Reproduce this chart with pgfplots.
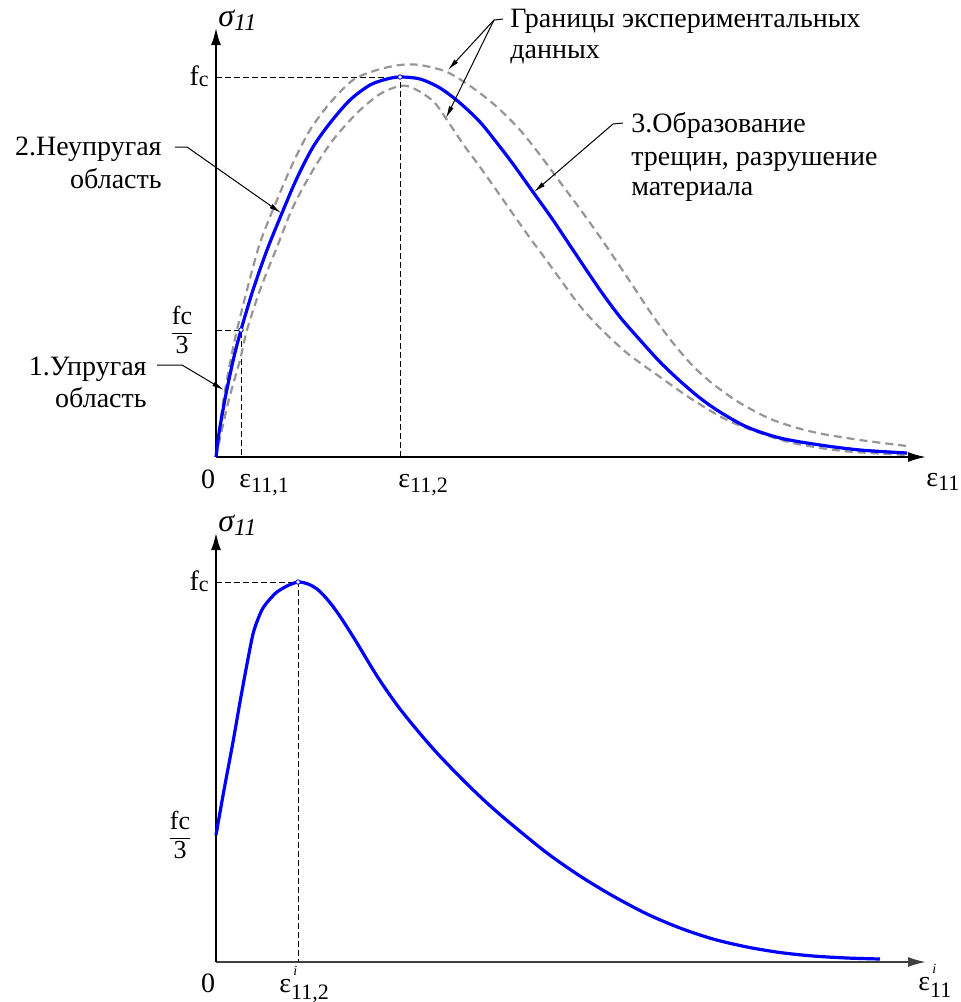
\documentclass[border=0pt]{standalone}
\usepackage{pgfplots}
\pgfplotsset{compat=1.18}
\usepackage{amsmath}
\usepackage{fontspec}
\setmainfont{Liberation Serif}
\newfontfamily\tnr{Liberation Serif}
\usetikzlibrary{arrows.meta}
\definecolor{bl}{RGB}{0,0,255}
\definecolor{gr}{RGB}{150,150,150}
\newcommand\fs[1]{\fontsize{#1}{#1}\selectfont}
\newcommand\sig{{\fs{16}\itshape σ}\raisebox{-0.45ex}{\fs{12}\itshape 11}}
\newcommand\fc{{\fs{14}f}\raisebox{-0.1ex}{\fs{11}c}}
\newcommand\fcthree{$\dfrac{\text{\tnr\fs{13}fc}}{\text{\tnr\fs{13}3}}$}
\newcommand\eps[1]{{\fs{14}ε}\raisebox{-0.5ex}{\fs{11}#1}}
\newcommand\epsi[1]{{\fs{14}ε}\rlap{\raisebox{8.5pt}{\fs{7}\itshape\,i}}\raisebox{-3.6pt}{\fs{11}#1}}
\begin{document}
\begin{tikzpicture}[font=\tnr]
\pgfplotsset{myaxis/.style={
  scale only axis, width=355pt, height=215pt,
  xmin=0, xmax=710, ymin=0, ymax=430,
  axis lines=left, xtick=\empty, ytick=\empty, clip=false,
  x axis line style={line width=0.9pt,-{Latex[length=9pt,width=5pt]}},
  y axis line style={line width=1.4pt,-{Latex[length=9pt,width=5pt]}},
  anchor=south west}}
% ---------- top ----------
\begin{axis}[myaxis, at={(108pt,-228.5pt)}]
\addplot[black, line width=0.5pt, dash pattern=on 3pt off 1.5pt] coordinates {(0,380)(184,380)(184,0)};
\addplot[black, line width=0.5pt, dash pattern=on 3pt off 1.5pt] coordinates {(0,127)(25,127)(25,0)};
\addplot[gr, line width=1.1pt, dash pattern=on 4pt off 2.5pt, smooth] coordinates {
(0,0)(7,54)(14,94)(21,127)(31,167)(44,214)(61,257)(77,294)(94,327)(114,354)(137,377)(161,387)(184,392)(204,392)(231,385)(257,369)(281,350)(304,327)(324,302)(344,275)(364,248)(384,220)(401,195)(417,171)(437,141)(457,114)(477,91)(497,73)(524,54)(557,37)(597,25)(644,17)(691,11)};
\addplot[gr, line width=1.1pt, dash pattern=on 4pt off 2.5pt, smooth] coordinates {
(0,0)(12,54)(24,97)(31,127)(44,167)(61,210)(77,250)(97,287)(117,317)(141,344)(164,363)(184,371)(197,369)(217,356)(231,337)(247,313)(264,290)(281,266)(297,243)(314,219)(331,196)(344,178)(364,151)(384,129)(411,104)(444,80)(477,57)(511,37)(544,24)(577,14)(627,6)(691,2)};
\addplot[bl, line width=1.6pt, smooth] coordinates {
(0,0)(3,24)(9,58)(17,96)(25,127)(37,167)(51,207)(66,244)(81,279)(97,310)(114,334)(134,357)(154,372)(171,378)(184,380)(204,378)(224,369)(244,354)(264,335)(281,314)(297,293)(317,265)(337,237)(357,207)(384,167)(404,140)(424,117)(444,95)(464,76)(484,59)(504,45)(531,30)(564,19)(604,12)(644,7)(691,4)};
\addplot[only marks, mark=*, mark size=1.1pt, mark options={fill=white, draw=bl, line width=0.4pt}] coordinates {(184,380)(25,127)};
\end{axis}
% ---------- bottom ----------
\begin{axis}[myaxis, at={(108pt,-481pt)},
  x axis line style={line width=0.9pt, draw=black!75,-{Latex[length=9pt,width=5pt]}}]
\addplot[black, line width=0.5pt, dash pattern=on 3pt off 1.5pt] coordinates {(0,380)(82,380)(82,0)};
\addplot[bl, line width=1.6pt, smooth] coordinates {
(0,127)(8,172)(17,220)(24,260)(31,298)(37,328)(42,343)(47,354)(54,363)(61,370)(71,376)(82,380)(92,378)(101,373)(111,363)(121,350)(131,335)(141,319)(161,286)(181,257)(201,232)(221,209)(247,182)(271,159)(294,139)(331,109)(364,86)(397,66)(431,48)(464,34)(497,23)(531,15)(564,9.5)(597,6)(631,4)(664,3)};
\addplot[only marks, mark=*, mark size=1.1pt, mark options={fill=white, draw=bl, line width=0.4pt}] coordinates {(82,380)};
\end{axis}
% ---------- annotations (pixel coordinates) ----------
\begin{scope}[x=0.5pt, y=-0.5pt, every node/.style={inner sep=0pt, font=\tnr}]
\node[anchor=west] at (218,20) {\sig};
\node[anchor=east] at (209,76) {\fc};
\node at (182,330) {\fcthree};
\node at (208,479) {\fs{14}0};
\node[anchor=west] at (239,485) {\eps{11,1}};
\node[anchor=west] at (398,485) {\eps{11,2}};
\node[anchor=west] at (926,482) {\eps{11}};
% bottom labels
\node[anchor=west] at (218,525) {\sig};
\node[anchor=east] at (209,581) {\fc};
\node at (180,835) {\fcthree};
\node at (208,983) {\fs{14}0};
\node[anchor=base west] at (279,992) {\epsi{11,2}};
\node[anchor=base west] at (918,990) {\epsi{11}};
% annotation texts
\begin{scope}[every node/.append style={font=\tnr\fs{14}}]
\node[anchor=base west] at (510,27) {Границы экспериментальных};
\node[anchor=base west] at (510,58) {данных};
\node[anchor=base west] at (631,132) {3.Образование};
\node[anchor=base west] at (631,165) {трещин, разрушение};
\node[anchor=base west] at (631,195) {материала};
\node[anchor=base east] at (162,155) {2.Неупругая};
\node[anchor=base east] at (162,188) {область};
\node[anchor=base east] at (147,375) {1.Упругая};
\node[anchor=base east] at (147,407) {область};
\end{scope}
\begin{scope}[line width=0.5pt, >={Latex[length=6pt,width=2.5pt]}]
\draw (503,19) -- (494,20);
\draw[->] (494,20) -- (448,70);
\draw[->] (494,20) -- (446,118);
\draw[->] (623,123) -- (613,124) -- (534,192);
\draw[->] (175,147) -- (187,147) -- (281,213);
\draw[->] (157,365) -- (182,365) -- (224,390);
\end{scope}
\end{scope}
\pgfresetboundingbox
\path (0,0) rectangle (480pt,-501pt);
\end{tikzpicture}
\end{document}
